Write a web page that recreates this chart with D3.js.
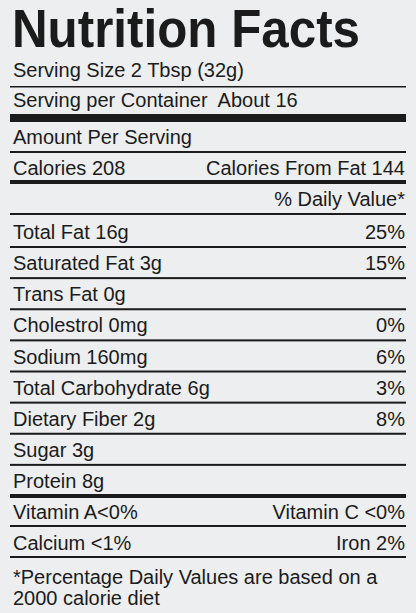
<!DOCTYPE html>
<html><head><meta charset="utf-8">
<script src="https://cdn.jsdelivr.net/npm/d3@7/dist/d3.min.js"></script>
<style>body{margin:0;background:#eceeef}text{font-family:"Liberation Sans",Arial,sans-serif;fill:#1b1b1b;white-space:pre}</style>
</head><body><svg id="c" width="416" height="613"></svg>
<script>
const title = "Nutrition Facts";
const servingSize = "Serving Size 2 Tbsp (32g)";
const servingPer = "Serving per Container  About 16";
const calories = ["Calories 208", "Calories From Fat 144"];
const nutrients = ["Total Fat 16g","Saturated Fat 3g","Trans Fat 0g","Cholestrol 0mg","Sodium 160mg","Total Carbohydrate 6g","Dietary Fiber 2g","Sugar 3g","Protein 8g"];
const dailyValues = ["25%","15%","","0%","6%","3%","8%","",""];
const vitaminsLeft = ["Vitamin A<0%","Calcium <1%"];
const vitaminsRight = ["Vitamin C <0%","Iron 2%"];
const footnote = ["*Percentage Daily Values are based on a","2000 calorie diet"];

const svg = d3.select("#c");
svg.append("rect").attr("width",416).attr("height",613).attr("fill","#eceeef");
const L=13, R=405, x0=10, x1=406, FS=20;
const rule=(y,h)=>svg.append("rect").attr("x",x0).attr("y",y).attr("width",x1-x0).attr("height",h).attr("fill","#1b1b1b");
const txt=(s,x,y,size,anchor,weight)=>svg.append("text").attr("x",x).attr("y",y).attr("font-size",size).attr("text-anchor",anchor||"start").attr("font-weight",weight||"normal").text(s);

txt(title,L-1,47,54,"start","bold").attr("textLength",348).attr("lengthAdjust","spacingAndGlyphs");
txt(servingSize,L,77,FS);
rule(86,1.5);
txt(servingPer,L,107,FS);
rule(114,8);
txt("Amount Per Serving",L,144,FS);
rule(151,2);
txt(calories[0],L,175,FS);
txt(calories[1],R,175,FS,"end");
rule(180,4);
txt("% Daily Value*",R,206,FS,"end");
rule(213,2);

const y = d3.scaleLinear().domain([0,nutrients.length-1]).range([239,488]);
nutrients.forEach((n,i)=>{
  txt(n,L,y(i),FS);
  if(dailyValues[i]) txt(dailyValues[i],R,y(i),FS,"end");
  const ly = y(i)+7;
  if(i===nutrients.length-1) rule(ly-1,4); else rule(ly,2);
});
const yv = d3.scaleLinear().domain([0,1]).range([519,550]);
vitaminsLeft.forEach((v,i)=>{
  txt(v,L,yv(i),FS);
  txt(vitaminsRight[i],R,yv(i),FS,"end");
  rule(yv(i)+6,2);
});
footnote.forEach((f,i)=>txt(f,L,584+i*21,FS));
</script></body></html>
